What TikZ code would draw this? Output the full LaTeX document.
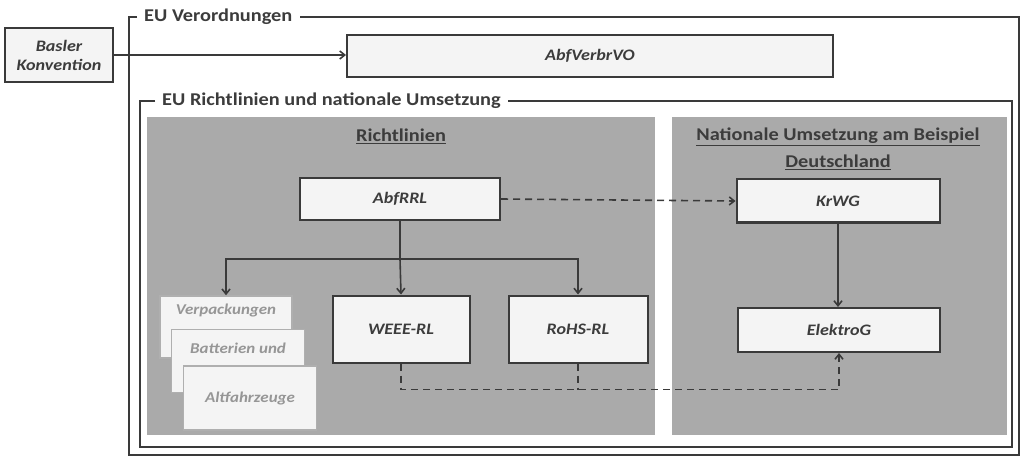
\documentclass[tikz,border=0pt]{standalone}
\usepackage{fontspec}
\setmainfont{Carlito}[FakeStretch=1.13]
\usetikzlibrary{arrows.meta,positioning,calc}

\definecolor{linecol}{RGB}{58,58,58}
\definecolor{textcol}{RGB}{60,60,60}
\definecolor{panelgrey}{RGB}{170,170,170}
\definecolor{boxfill}{RGB}{244,244,244}
\definecolor{oldline}{RGB}{175,175,175}
\definecolor{oldtext}{RGB}{150,150,150}

\begin{document}
\begin{tikzpicture}[
    x=1pt, y=-1pt,
    heading/.style={inner sep=7pt, font=\fontsize{18}{27}\selectfont\bfseries, text=textcol, align=center},
    lawbox/.style={rectangle, draw=linecol, line width=2pt, fill=boxfill, inner sep=0pt, align=center, font=\fontsize{16}{19}\selectfont\bfseries\itshape, text=textcol},
    oldbox/.style={rectangle, draw=oldline, line width=1.5pt, fill=boxfill, inner sep=0pt, align=center, font=\fontsize{15}{18}\selectfont\bfseries\itshape, text=oldtext},
    frame/.style={draw=linecol, line width=2pt},
    panel/.style={fill=panelgrey},
    arrow/.style={-{Straight Barb[length=5pt, width=8pt]}, line width=1.6pt, linecol},
    link/.style={line width=1.6pt, linecol, dash pattern=on 7pt off 5pt},
    ]

    \useasboundingbox[fill=white] (0,0) rectangle (1025,457);

    % Grey panels
    \fill[panel] (147,117) rectangle (655,435);
    \fill[panel] (672,117) rectangle (1007,435);

    % Frames with headings
    \node[heading, anchor=west] (verordLabel) at (137,17) {EU Verordnungen};
    \draw[frame] (verordLabel.west) -- (129,17) -- (129,455) -- (1019,455) -- (1019,17) -- (verordLabel.east);

    \node[heading, anchor=west] (richtLabel) at (155,101) {EU Richtlinien und nationale Umsetzung};
    \draw[frame] (richtLabel.west) -- (140,101) -- (140,447) -- (1012,447) -- (1012,101) -- (richtLabel.east);

    \node[heading] (richtHead) at (401,136) {\underline{Richtlinien}};
    \node[heading] (natHead) at (838,149) {\underline{Nationale Umsetzung am Beispiel}\\\underline{Deutschland}};

    % Boxes
    \node[lawbox, minimum width=108pt, minimum height=54pt] (basler) at (59,55) {Basler\\Konvention};
    \node[lawbox, minimum width=486pt, minimum height=42pt] (verbrvo) at (590,56) {AbfVerbrVO};
    \node[lawbox, minimum width=200pt, minimum height=42pt] (abfrrl) at (400,199) {AbfRRL};
    \node[lawbox, minimum width=203pt, minimum height=43pt] (krwg) at (838,201) {KrWG};
    \node[lawbox, minimum width=137pt, minimum height=67pt] (weee) at (401,329) {WEEE-RL};
    \node[lawbox, minimum width=139pt, minimum height=67pt] (rohs) at (578,329) {RoHS-RL};
    \node[lawbox, minimum width=202pt, minimum height=44pt] (elektrog) at (839,330) {ElektroG};

    % Stacked older directives
    \node[oldbox, minimum width=132pt, minimum height=62pt, text depth=36pt] (verpack) at (226,327) {Verpackungen};
    \node[oldbox, minimum width=133pt, minimum height=63pt, text depth=26pt] (batterie) at (238,361) {Batterien und};
    \node[oldbox, minimum width=133pt, minimum height=64pt] (altfahr) at (250,398) {Altfahrzeuge};

    % Arrows
    \draw[arrow] (basler.east) -- (basler.east -| verbrvo.west);
    \coordinate (fork) at ($(abfrrl.south)+(0,38)$);
    \draw[arrow, -] (abfrrl.south) -- (fork);
    \draw[arrow] (fork) -| (verpack.north);
    \draw[arrow] (fork) -- (weee.north);
    \draw[arrow] (fork) -| (rohs.north);
    \draw[arrow] (krwg.south) -- (krwg.south |- elektrog.north);

    % Dashed links to national law
    \draw[link, -{Straight Barb[length=5pt, width=8pt]}] (abfrrl.east) -- (krwg.west);
    \draw[link, -{Straight Barb[length=5pt, width=8pt]}] (weee.south) -- ++(0,26) -| (elektrog.south);
    \draw[link] (rohs.south) -- ++(0,26);

\end{tikzpicture}
\end{document}
